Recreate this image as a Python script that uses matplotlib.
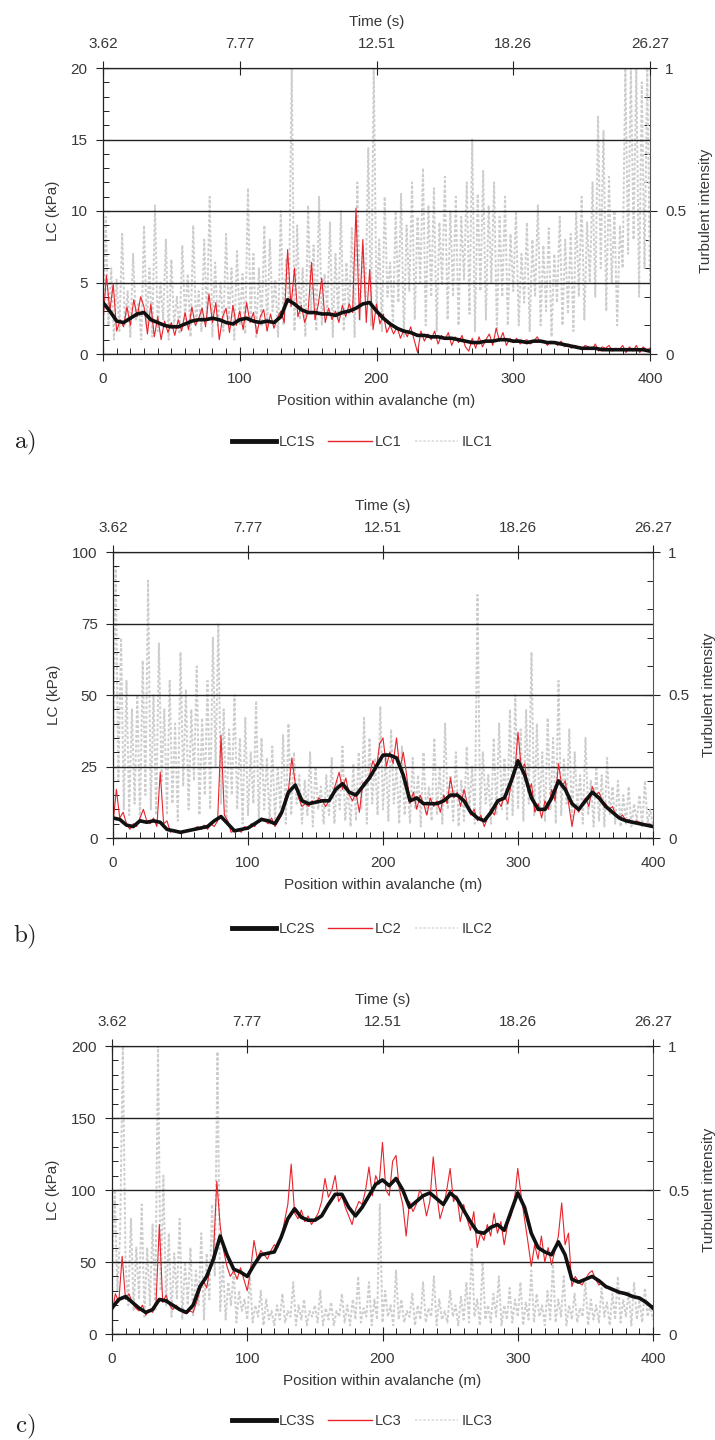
import numpy as np
import matplotlib
matplotlib.use('Agg')
import matplotlib.pyplot as plt
from matplotlib.ticker import AutoMinorLocator, MultipleLocator
from matplotlib.lines import Line2D

plt.rcParams['font.family'] = ['Liberation Sans', 'DejaVu Sans']
plt.rcParams['mathtext.fontset'] = 'cm'

# ---------------- data ----------------
x_smooth = np.arange(0, 401, 5)        # position (m) for smoothed series
x_raw = np.arange(0, 400.1, 2.5)       # position (m) for raw series
x_ti = np.arange(0, 401, 2)            # position (m) for turbulent intensity

time_pos = [0, 100, 200, 300, 400]
time_labels = ['3.62', '7.77', '12.51', '18.26', '26.27']

lc1s = [3.6, 3.0, 2.3, 2.2, 2.5, 2.8, 2.9, 2.4, 2.2, 2.0,
        1.9, 1.9, 2.1, 2.3, 2.4, 2.4, 2.5, 2.4, 2.2, 2.1,
        2.4, 2.5, 2.3, 2.2, 2.3, 2.2, 2.6, 3.8, 3.5, 3.1,
        2.9, 2.9, 2.8, 2.8, 2.7, 2.9, 3.0, 3.2, 3.5, 3.6,
        3.0, 2.5, 2.1, 1.8, 1.6, 1.5, 1.3, 1.3, 1.2, 1.2,
        1.1, 1.1, 1.0, 0.9, 0.8, 0.8, 0.9, 0.9, 1.0, 1.0,
        0.9, 0.9, 0.8, 0.9, 0.9, 0.8, 0.8, 0.7, 0.6, 0.5,
        0.4, 0.4, 0.4, 0.3, 0.3, 0.3, 0.3, 0.3, 0.3, 0.3,
        0.2]
lc1 = [2.2, 5.5, 3.0, 4.9, 1.6, 2.4, 1.9, 3.3, 2.0, 3.8,
       2.6, 4.0, 3.3, 1.4, 3.5, 1.2, 2.6, 1.0, 2.3, 1.5,
       2.2, 1.3, 2.4, 1.6, 2.9, 1.7, 3.3, 2.0, 2.5, 3.2,
       1.9, 4.2, 2.2, 3.6, 1.0, 2.6, 3.2, 1.5, 3.4, 2.0,
       3.0, 1.7, 3.6, 2.2, 2.9, 1.4, 2.6, 3.1, 1.6, 2.8,
       1.8, 2.5, 3.0, 2.2, 7.3, 3.3, 6.0, 2.6, 3.4, 2.2,
       3.0, 6.4, 2.4, 3.5, 5.3, 2.2, 3.2, 2.4, 3.0, 2.2,
       3.4, 2.6, 3.5, 2.9, 10.2, 2.4, 8.0, 2.2, 5.9, 1.7,
       3.5, 2.1, 2.8, 1.5, 2.0, 1.4, 1.9, 1.1, 1.7, 1.2,
       1.9, 1.0, 0.1, 1.6, 0.9, 1.4, 1.0, 1.6, 0.7, 1.3,
       1.0, 1.5, 0.6, 1.2, 0.8, 1.3, 0.5, 0.2, 1.1, 0.4,
       1.2, 0.5, 1.0, 1.4, 0.6, 1.8, 0.9, 1.5, 0.6, 1.1,
       0.8, 1.1, 0.7, 0.9, 1.0, 0.7, 0.9, 1.2, 0.8, 0.9,
       0.6, 0.9, 0.8, 0.6, 0.9, 0.5, 0.7, 0.4, 0.6, 0.5,
       0.3, 0.6, 0.5, 0.3, 0.7, 0.2, 0.5, 0.4, 0.6, 0.2,
       0.4, 0.3, 0.6, 0.1, 0.5, 0.2, 0.6, 0.1, 0.5, 0.3,
       0.4]
ilc1 = [0.05, 0.48, 0.10, 0.30, 0.05, 0.26, 0.08, 0.42, 0.10, 0.22,
        0.06, 0.35, 0.12, 0.18, 0.05, 0.45, 0.10, 0.30, 0.06, 0.52,
        0.08, 0.25, 0.12, 0.40, 0.05, 0.33, 0.10, 0.20, 0.07, 0.38,
        0.12, 0.28, 0.06, 0.45, 0.10, 0.22, 0.08, 0.40, 0.12, 0.55,
        0.06, 0.32, 0.10, 0.25, 0.08, 0.42, 0.12, 0.30, 0.05, 0.36,
        0.10, 0.28, 0.07, 0.58, 0.12, 0.35, 0.06, 0.30, 0.10, 0.45,
        0.08, 0.40, 0.15, 0.26, 0.06, 0.50, 0.10, 0.33, 0.18, 1.00,
        0.08, 0.45, 0.12, 0.30, 0.06, 0.52, 0.14, 0.38, 0.08, 0.55,
        0.10, 0.28, 0.15, 0.46, 0.06, 0.35, 0.12, 0.50, 0.08, 0.32,
        0.14, 0.44, 0.06, 0.60, 0.12, 0.38, 0.20, 0.72, 0.10, 1.00,
        0.15, 0.40, 0.08, 0.55, 0.20, 0.32, 0.10, 0.50, 0.18, 0.56,
        0.06, 0.45, 0.22, 0.60, 0.12, 0.48, 0.25, 0.65, 0.10, 0.52,
        0.20, 0.58, 0.08, 0.46, 0.24, 0.62, 0.12, 0.50, 0.20, 0.55,
        0.10, 0.48, 0.26, 0.60, 0.14, 0.75, 0.08, 0.56, 0.22, 0.64,
        0.12, 0.52, 0.25, 0.60, 0.08, 0.48, 0.20, 0.55, 0.10, 0.42,
        0.22, 0.50, 0.10, 0.35, 0.18, 0.46, 0.08, 0.40, 0.20, 0.52,
        0.10, 0.38, 0.15, 0.44, 0.06, 0.35, 0.18, 0.48, 0.10, 0.40,
        0.14, 0.42, 0.08, 0.50, 0.20, 0.55, 0.12, 0.46, 0.25, 0.60,
        0.20, 0.83, 0.30, 0.78, 0.15, 0.62, 0.25, 0.50, 0.10, 0.45,
        0.30, 1.00, 0.35, 1.00, 0.40, 1.00, 0.20, 0.95, 0.30, 1.00,
        0.25]

lc2s = [7, 6.5, 4.5, 4, 6, 5.5, 6, 5.5, 3, 2.5,
        2, 2.5, 3, 3.5, 4, 6, 7.5, 5, 2.5, 3,
        3.5, 5, 6.5, 6, 5, 9, 16, 18.5, 13, 12,
        12.5, 13, 13, 17, 19, 16, 15, 18, 21, 25,
        29, 29, 28, 22, 13, 14, 12, 12, 12, 13,
        15, 15, 13, 9, 7, 6, 9, 13, 14, 20,
        27, 22, 14, 10, 10, 14, 20, 17, 12, 10,
        13, 16, 14, 11, 9, 7, 6, 5.5, 5, 4.5,
        4]
lc2 = [5, 17, 7, 9, 5, 3, 5, 4, 7, 10,
       6, 5, 7, 4, 23, 5, 6, 2, 3, 2,
       1.5, 2, 2.5, 3, 3, 4, 3, 4.5, 3, 5,
       4, 6, 36, 8, 6, 2, 2.5, 3, 2, 4,
       3, 5, 4, 6, 7, 6, 5, 7, 4, 6,
       8, 14, 17, 28, 19, 14, 11, 12, 11, 13,
       12, 14, 13, 11, 13, 15, 19, 23, 17, 21,
       15, 13, 16, 9, 19, 20, 22, 27, 24, 33,
       35, 25, 30, 26, 35, 24, 30, 22, 12, 16,
       10, 15, 12, 8, 14, 11, 13, 9, 15, 12,
       21, 14, 16, 11, 17, 12, 8, 10, 6, 8,
       4, 7, 10, 8, 13, 11, 15, 12, 19, 22,
       37, 24, 26, 16, 19, 9, 12, 7, 13, 10,
       17, 13, 26, 18, 20, 12, 4, 11, 9, 12,
       14, 11, 18, 15, 16, 13, 12, 10, 11, 8,
       7, 8, 6, 6.5, 5, 6, 5.5, 5, 4.5, 5,
       4]
ilc2 = [0.30, 0.95, 0.20, 0.70, 0.10, 0.55, 0.08, 0.45, 0.12, 0.50,
        0.06, 0.62, 0.15, 0.90, 0.10, 0.50, 0.08, 0.68, 0.20, 0.45,
        0.08, 0.55, 0.12, 0.40, 0.06, 0.65, 0.18, 0.52, 0.10, 0.45,
        0.20, 0.60, 0.08, 0.42, 0.15, 0.55, 0.10, 0.70, 0.25, 0.75,
        0.12, 0.45, 0.06, 0.38, 0.15, 0.50, 0.10, 0.35, 0.05, 0.42,
        0.08, 0.30, 0.12, 0.48, 0.06, 0.35, 0.10, 0.28, 0.05, 0.32,
        0.06, 0.25, 0.10, 0.36, 0.05, 0.40, 0.08, 0.30, 0.12, 0.22,
        0.05, 0.20, 0.08, 0.30, 0.04, 0.25, 0.10, 0.18, 0.05, 0.22,
        0.08, 0.28, 0.05, 0.20, 0.10, 0.32, 0.06, 0.18, 0.04, 0.26,
        0.06, 0.30, 0.10, 0.42, 0.05, 0.35, 0.12, 0.28, 0.08, 0.46,
        0.10, 0.30, 0.06, 0.38, 0.12, 0.25, 0.05, 0.32, 0.08, 0.20,
        0.05, 0.28, 0.10, 0.22, 0.04, 0.30, 0.08, 0.18, 0.06, 0.35,
        0.08, 0.25, 0.05, 0.40, 0.10, 0.22, 0.06, 0.30, 0.04, 0.20,
        0.06, 0.32, 0.10, 0.25, 0.05, 0.85, 0.08, 0.30, 0.12, 0.22,
        0.05, 0.35, 0.08, 0.40, 0.10, 0.28, 0.06, 0.45, 0.08, 0.50,
        0.10, 0.38, 0.06, 0.45, 0.12, 0.65, 0.08, 0.40, 0.10, 0.30,
        0.06, 0.42, 0.10, 0.35, 0.05, 0.55, 0.08, 0.28, 0.12, 0.38,
        0.06, 0.30, 0.10, 0.22, 0.05, 0.35, 0.08, 0.20, 0.04, 0.25,
        0.06, 0.22, 0.04, 0.28, 0.08, 0.18, 0.05, 0.20, 0.04, 0.15,
        0.05, 0.18, 0.04, 0.12, 0.06, 0.15, 0.04, 0.20, 0.05, 0.10,
        0.04]

lc3s = [18, 24, 26, 22, 18, 15, 17, 24, 23, 20,
        17, 15, 20, 33, 40, 52, 68, 55, 45, 43,
        40, 48, 55, 56, 57, 67, 80, 87, 81, 79,
        79, 82, 90, 97, 97, 88, 82, 88, 96, 104,
        107, 103, 108, 100, 88, 92, 96, 98, 94, 90,
        98, 94, 86, 78, 71, 70, 74, 76, 72, 85,
        98, 88, 70, 60, 57, 55, 64, 55, 38, 36,
        38, 40, 37, 33, 31, 29, 28, 26, 25, 22,
        18]
lc3 = [14, 28, 22, 54, 24, 28, 22, 18, 16, 20,
       13, 17, 15, 20, 76, 22, 27, 20, 17, 20,
       17, 15, 14, 16, 15, 22, 30, 37, 32, 46,
       55, 106, 75, 58, 47, 40, 44, 38, 46, 38,
       30, 45, 65, 52, 58, 55, 52, 58, 62, 60,
       66, 78, 90, 118, 84, 80, 86, 78, 82, 76,
       80, 84, 92, 108, 95, 100, 110, 92, 96, 88,
       82, 76, 86, 92, 90, 100, 116, 96, 110, 104,
       133, 100, 96, 120, 124, 100, 90, 68, 92, 85,
       90, 100, 95, 82, 92, 123, 98, 80, 88, 100,
       115, 92, 96, 78, 90, 80, 72, 85, 60, 70,
       65, 76, 68, 84, 70, 78, 62, 76, 82, 92,
       115, 96, 80, 64, 47, 62, 52, 68, 50, 60,
       48, 58, 68, 91, 62, 70, 33, 40, 36, 34,
       38, 42, 44, 38, 34, 36, 32, 33, 30, 31,
       29, 28, 27, 28, 26, 25, 24, 23, 21, 20,
       17]
ilc3 = [0.20, 0.50, 0.15, 0.35, 1.00, 0.25, 0.10, 0.40, 0.08, 0.30,
        0.12, 0.45, 0.06, 0.30, 0.10, 0.38, 0.08, 1.00, 0.15, 0.55,
        0.10, 0.35, 0.06, 0.28, 0.12, 0.40, 0.05, 0.25, 0.10, 0.30,
        0.06, 0.22, 0.10, 0.35, 0.05, 0.28, 0.12, 0.45, 0.20, 0.98,
        0.08, 0.25, 0.05, 0.18, 0.10, 0.22, 0.04, 0.15, 0.08, 0.12,
        0.05, 0.20, 0.04, 0.10, 0.06, 0.15, 0.03, 0.12, 0.05, 0.08,
        0.03, 0.10, 0.05, 0.14, 0.04, 0.08, 0.06, 0.18, 0.03, 0.10,
        0.05, 0.12, 0.03, 0.08, 0.06, 0.10, 0.04, 0.15, 0.03, 0.09,
        0.05, 0.11, 0.03, 0.08, 0.06, 0.14, 0.04, 0.10, 0.03, 0.12,
        0.05, 0.20, 0.04, 0.09, 0.06, 0.18, 0.03, 0.12, 0.05, 0.45,
        0.04, 0.15, 0.06, 0.10, 0.03, 0.22, 0.05, 0.12, 0.04, 0.08,
        0.06, 0.14, 0.03, 0.10, 0.05, 0.18, 0.04, 0.09, 0.06, 0.20,
        0.03, 0.12, 0.05, 0.08, 0.04, 0.15, 0.06, 0.10, 0.03, 0.13,
        0.05, 0.18, 0.04, 0.30, 0.06, 0.12, 0.03, 0.25, 0.05, 0.10,
        0.04, 0.14, 0.06, 0.20, 0.03, 0.10, 0.05, 0.16, 0.04, 0.12,
        0.06, 0.18, 0.03, 0.11, 0.05, 0.22, 0.04, 0.14, 0.06, 0.10,
        0.03, 0.15, 0.05, 0.25, 0.04, 0.12, 0.06, 0.20, 0.03, 0.10,
        0.05, 0.14, 0.04, 0.09, 0.06, 0.18, 0.03, 0.12, 0.05, 0.10,
        0.04, 0.16, 0.06, 0.11, 0.03, 0.14, 0.05, 0.20, 0.04, 0.12,
        0.06, 0.15, 0.03, 0.18, 0.05, 0.12, 0.04, 0.16, 0.06, 0.10,
        0.05]

# ---------------- layout / style ----------------
W, H = 715, 1440
panels = [
    dict(s=lc1s, r=lc1, g=ilc1, ymax=20, ystep=5, names=('LC1S', 'LC1', 'ILC1'),
         tag='a)', px=(103, 650, 68, 354), leg_y=442, tag_y=443),
    dict(s=lc2s, r=lc2, g=ilc2, ymax=100, ystep=25, names=('LC2S', 'LC2', 'ILC2'),
         tag='b)', px=(113, 653, 552, 838), leg_y=929, tag_y=937),
    dict(s=lc3s, r=lc3, g=ilc3, ymax=200, ystep=50, names=('LC3S', 'LC3', 'ILC3'),
         tag='c)', px=(112, 653, 1046, 1334), leg_y=1421, tag_y=1427),
]

RED = '#e8232b'
BLK = '#111111'
GRY = '#cdcdcd'
AX = '#222222'
TXT = '#383838'
FS = 11

fig = plt.figure(figsize=(W / 100, H / 100), dpi=100)

for p in panels:
    l, r, t, b = p['px']
    ax = fig.add_axes([l / W, 1 - b / H, (r - l) / W, (b - t) / H])
    ax2 = ax.twinx()
    ax.set_zorder(ax2.get_zorder() + 1)
    ax.patch.set_visible(False)

    ax2.plot(x_ti, p['g'], color=GRY, lw=1.4, ls=(0, (1.5, 1.0)))
    ax.plot(x_raw, p['r'], color=RED, lw=0.8)
    ax.plot(x_smooth, p['s'], color=BLK, lw=2.6)

    ax.set_xlim(0, 400)
    ax.set_ylim(0, p['ymax'])
    ax2.set_ylim(0, 1)

    ax.set_xticks([0, 100, 200, 300, 400])
    ax.xaxis.set_minor_locator(MultipleLocator(10))
    ax.set_yticks(np.arange(0, p['ymax'] + 1, p['ystep']))
    ax.yaxis.set_minor_locator(AutoMinorLocator(5))
    ax.yaxis.grid(True, which='major', color=AX, lw=1.0)
    ax.set_axisbelow(True)

    ax.tick_params(which='major', direction='inout', length=10, width=0.8,
                   color=AX, labelcolor=TXT, labelsize=FS)
    ax.tick_params(axis='x', which='major', pad=8)
    ax.tick_params(axis='y', which='major', pad=6)
    ax.tick_params(which='minor', direction='in', length=4, width=0.7, color=AX)

    ax2.set_yticks([0, 0.5, 1], labels=['0', '0.5', '1'])
    ax2.yaxis.set_minor_locator(MultipleLocator(0.1))
    ax2.tick_params(which='major', direction='inout', length=10, width=0.8,
                    color=AX, labelcolor=TXT, labelsize=FS, pad=6)
    ax2.tick_params(which='minor', direction='in', length=4, width=0.7, color=AX)

    for sp in ('top', 'right'):
        ax.spines[sp].set_visible(False)
    for sp in ('left', 'bottom'):
        ax.spines[sp].set_color(AX)
        ax.spines[sp].set_linewidth(0.9)
    for sp in ('left', 'top', 'bottom'):
        ax2.spines[sp].set_visible(False)
    ax2.spines['right'].set_color('#555555')
    ax2.spines['right'].set_linewidth(0.8)

    ax.set_xlabel('Position within avalanche (m)', fontsize=FS, color=TXT, labelpad=6)
    ax.set_ylabel('LC (kPa)', fontsize=FS, color=TXT, labelpad=8)
    ax2.set_ylabel('Turbulent intensity', fontsize=FS, color=TXT, labelpad=9)

    sec = ax.secondary_xaxis('top')
    sec.set_xticks(time_pos, labels=time_labels)
    sec.tick_params(direction='inout', length=10, width=0.8, color=AX,
                    labelcolor=TXT, labelsize=FS, pad=7)
    sec.spines['top'].set_color(AX)
    sec.spines['top'].set_linewidth(0.9)
    sec.set_xlabel('Time (s)', fontsize=FS, color=TXT, labelpad=8)

    handles = [Line2D([], [], color=BLK, lw=3.5),
               Line2D([], [], color=RED, lw=1.0),
               Line2D([], [], color='#dddddd', lw=1.2, ls=(0, (1.5, 1.0)))]
    fig.legend(handles, p['names'], loc='center', ncol=3, frameon=False,
               bbox_to_anchor=(362 / W, 1 - p['leg_y'] / H),
               fontsize=10.5, handlelength=3.0, handletextpad=0.2,
               columnspacing=0.9, labelcolor=TXT)

    fig.text(25 / W, 1 - p['tag_y'] / H, r'$\mathrm{' + p['tag'] + '}$',
             fontsize=18, ha='center', va='center', color='#222222')

fig.savefig('out.png', dpi=100, facecolor='white')
